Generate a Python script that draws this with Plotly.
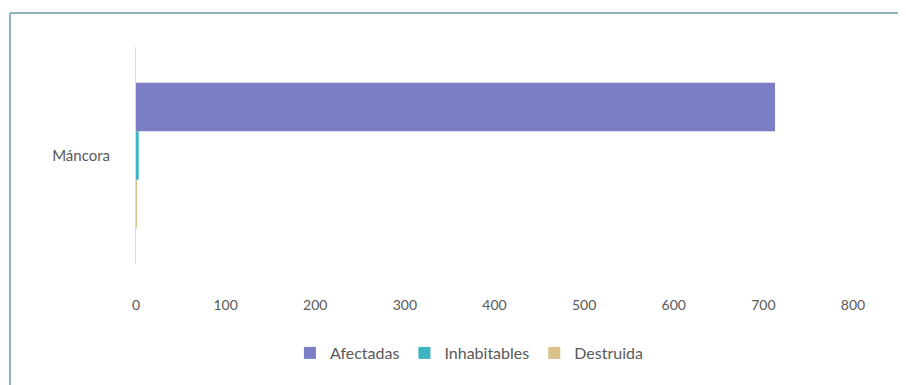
import plotly.graph_objects as go

categories = ["Máncora"]
series_names = ["Afectadas", "Inhabitables", "Destruida"]
afectadas = [713]
inhabitables = [3]
destruida = [1]
x_ticks = [0, 100, 200, 300, 400, 500, 600, 700, 800]

colors = {"Afectadas": "#7b7ec4", "Inhabitables": "#3cb4c2", "Destruida": "#dcc189"}
values = {"Afectadas": afectadas, "Inhabitables": inhabitables, "Destruida": destruida}

# the page body has an 8px margin, so work in page pixels and subtract it
OFF = 8
W, H = 906 - OFF, 385 - OFF
L, T = 136 - OFF, 47 - OFF
R, B = 906 - 853, 385 - 264

fig = go.Figure()
# plotly draws the first trace at the bottom, so add them reversed
for name in reversed(series_names):
    fig.add_trace(go.Bar(
        y=categories, x=values[name], name=name, orientation="h",
        marker=dict(color=colors[name], line=dict(width=0)),
    ))

pw, ph = W - L - R, H - T - B


def px_x(p):
    return (p - OFF - L) / pw


def px_y(p):
    return (H - B - (p - OFF)) / ph


fig.update_layout(
    width=W, height=H,
    margin=dict(l=L, r=R, t=T, b=B),
    paper_bgcolor="white", plot_bgcolor="white",
    barmode="group", bargap=0.33, bargroupgap=0,
    font=dict(family="Lato, 'Open Sans', sans-serif", size=15, color="#595959"),
    showlegend=True,
    legend=dict(orientation="h", traceorder="reversed",
                x=0.465, xanchor="center", y=px_y(353), yanchor="middle",
                font=dict(size=16, color="#595959"), itemwidth=30),
    xaxis=dict(range=[0, 800], tickvals=x_ticks, showgrid=False, zeroline=False,
               showline=False, ticklabelstandoff=31, tickfont=dict(size=14)),
    yaxis=dict(showgrid=False, zeroline=False, showline=True, linecolor="#d9d9d9",
               linewidth=1, ticklabelstandoff=22),
    shapes=[
        dict(type="line", xref="paper", yref="paper", x0=px_x(10), x1=px_x(906),
             y0=px_y(13), y1=px_y(13), line=dict(color="#8fb3bd", width=2)),
        dict(type="line", xref="paper", yref="paper", x0=px_x(10), x1=px_x(10),
             y0=px_y(13), y1=px_y(385), line=dict(color="#8fb3bd", width=2)),
    ],
)

fig.write_html("out.html")
